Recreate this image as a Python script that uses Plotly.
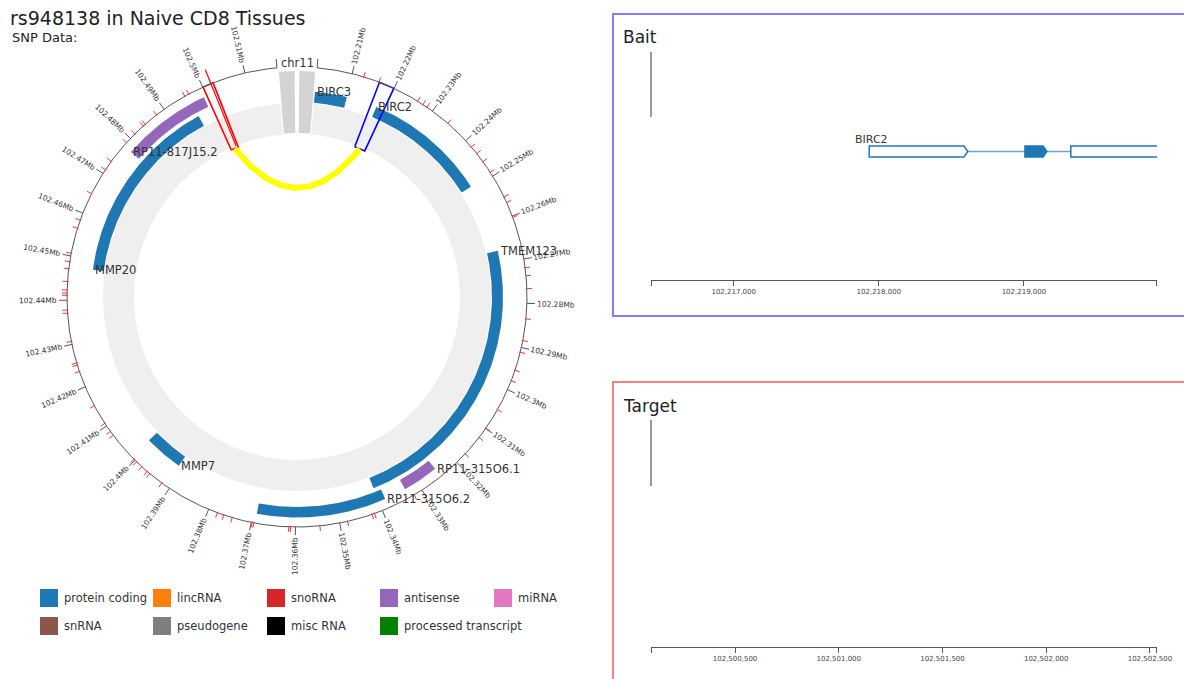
import math
import plotly.graph_objects as go

FIG_W, FIG_H = 1184, 679
FONT = "DejaVu Sans"
TEXT_COLOR = "#333333"

# ---------------- data ----------------
CHROM = "chr11"
TITLE = "rs948138 in Naive CD8 Tissues"

# genomic window wrapped around the circle (Mb)
REGION_START = 102.2020
REGION_END = 102.5173

gene_names = ["BIRC3", "BIRC2", "TMEM123", "RP11-315O6.1", "RP11-315O6.2",
              "MMP7", "MMP20", "RP11-817J15.2"]
gene_starts = [102.1882, 102.2179, 102.2669, 102.3247, 102.3384,
               102.3912, 102.4476, 102.4778]
gene_ends = [102.2101, 102.2494, 102.3400, 102.3332, 102.3691,
             102.4010, 102.4961, 102.4993]
gene_types = ["protein coding", "protein coding", "protein coding", "antisense",
              "protein coding", "protein coding", "protein coding", "antisense"]

# SNP positions (Mb) shown as short ticks outside the axis
snp_positions = [
    102.2127, 102.2163, 102.2260, 102.2274, 102.2285, 102.2344, 102.2419,
    102.2438, 102.2461, 102.2490, 102.2553, 102.2567, 102.2603, 102.2720,
    102.2738, 102.2767, 102.2835, 102.2884, 102.2911, 102.2953, 102.2978,
    102.3050, 102.3099, 102.3125, 102.3173, 102.3321, 102.3419, 102.3425,
    102.3482, 102.3545, 102.3611, 102.3615, 102.3694, 102.3698, 102.3744,
    102.3764, 102.3779, 102.3921, 102.3955, 102.3963, 102.3979, 102.3995,
    102.4003, 102.4074, 102.4085, 102.4107, 102.4153, 102.4237, 102.4252,
    102.4257, 102.4307, 102.4371, 102.4378, 102.4411, 102.4416, 102.4423,
    102.4442, 102.4471, 102.4487, 102.4506, 102.4564, 102.4583, 102.4648,
    102.4710, 102.4733, 102.4787, 102.4814, 102.4840, 102.4846, 102.4879,
    102.4955, 102.4965,
]
lead_snp_mb = 102.5020

axis_ticks_mb = [102.21, 102.22, 102.23, 102.24, 102.25, 102.26, 102.27, 102.28,
                 102.29, 102.30, 102.31, 102.32, 102.33, 102.34, 102.35, 102.36,
                 102.37, 102.38, 102.39, 102.40, 102.41, 102.42, 102.43, 102.44,
                 102.45, 102.46, 102.47, 102.48, 102.49, 102.50, 102.51]

# interacting regions (bp)
bait_start, bait_end = 102216430, 102219917
target_start, target_end = 102500095, 102502534
bait_ticks = [102217000, 102218000, 102219000]
target_ticks = [102500500, 102501000, 102501500, 102502000, 102502500]

# BIRC2 exons inside the bait window (bp)
bait_gene = "BIRC2"
bait_gene_start = 102217934
exon_starts = [102217934, 102219007, 102219323]
exon_ends = [102218587, 102219132, 102219930]
exon_coding = [False, True, False]

legend_types = ["protein coding", "lincRNA", "snoRNA", "antisense", "miRNA",
                "snRNA", "pseudogene", "misc RNA", "processed transcript"]
type_colors = {
    "protein coding": "#1f77b4", "lincRNA": "#ff7f0e", "snoRNA": "#d62728",
    "antisense": "#9467bd", "miRNA": "#e377c2", "snRNA": "#8c564b",
    "pseudogene": "#7f7f7f", "misc RNA": "#000000",
    "processed transcript": "#008000",
}

# ---------------- circle geometry (px units, centre at origin) ----------------
CX, CY = 297, 297
GAP_DEG = 10.0
R_AXIS = 230
R_RING = (163, 194)
R_LANES = [(195, 206), (210, 220.5)]
R_BOX = (161, 230)
R_LINK_CTRL = 70
R_WEDGE = (164, 226)


def angle_of(mb):
    frac = (mb - REGION_START) / (REGION_END - REGION_START)
    return GAP_DEG / 2 + frac * (360 - GAP_DEG)


def polar(theta, r):
    t = math.radians(theta)
    return r * math.sin(t), r * math.cos(t)


def sector(t1, t2, r1, r2):
    n = max(2, int(abs(t2 - t1) / 0.5) + 2)
    ts = [t1 + (t2 - t1) * i / (n - 1) for i in range(n)]
    xs, ys = [], []
    for t in ts:
        x, y = polar(t, r2)
        xs.append(x); ys.append(y)
    for t in reversed(ts):
        x, y = polar(t, r1)
        xs.append(x); ys.append(y)
    xs.append(xs[0]); ys.append(ys[0])
    return xs, ys


def px(x):
    return x / FIG_W


def py(y):
    return 1 - y / FIG_H


fig = go.Figure()


def add_poly(xs, ys, fill, line_color=None, width=0, xa="x", ya="y"):
    fig.add_trace(go.Scatter(
        x=xs, y=ys, mode="lines", fill="toself", fillcolor=fill,
        line=dict(color=line_color or fill, width=width),
        xaxis=xa, yaxis=ya, hoverinfo="skip", showlegend=False))


def add_line(xs, ys, color, width, xa="x", ya="y"):
    fig.add_trace(go.Scatter(
        x=xs, y=ys, mode="lines", line=dict(color=color, width=width),
        xaxis=xa, yaxis=ya, hoverinfo="skip", showlegend=False))


# background ring
a0, a1 = angle_of(REGION_START), angle_of(REGION_END)
xs, ys = sector(a0, a1, *R_RING)
add_poly(xs, ys, "#efefef")

# chromosome gap wedges
for t1, t2 in [(-4.6, -0.6), (0.6, 4.6)]:
    xs, ys = sector(t1, t2, *R_WEDGE)
    add_poly(xs, ys, "#d3d3d3")

# gene bars, greedy lane assignment
lane_end = []
order = sorted(range(len(gene_names)), key=lambda i: gene_starts[i])
gene_lane = {}
for i in order:
    s = max(gene_starts[i], REGION_START)
    lane = 0
    while lane < len(lane_end) and lane_end[lane] > s:
        lane += 1
    if lane == len(lane_end):
        lane_end.append(0)
    lane_end[lane] = gene_ends[i]
    gene_lane[i] = lane

gene_annotations = []
for i, name in enumerate(gene_names):
    s = max(gene_starts[i], REGION_START)
    e = min(gene_ends[i], REGION_END)
    r1, r2 = R_LANES[gene_lane[i]]
    xs, ys = sector(angle_of(s), angle_of(e), r1, r2)
    add_poly(xs, ys, type_colors[gene_types[i]])
    lx, ly = polar(angle_of(s), r2)
    gene_annotations.append(dict(
        x=lx, y=ly, xref="x", yref="y", text=name, showarrow=False,
        xanchor="left", yanchor="middle",
        font=dict(family=FONT, size=11.5, color=TEXT_COLOR)))

# interacting region boxes
def region_box(start_bp, end_bp, color):
    t1, t2 = angle_of(start_bp / 1e6), angle_of(end_bp / 1e6)
    pts = [polar(t1, R_BOX[0]), polar(t1, R_BOX[1]),
           polar(t2, R_BOX[1]), polar(t2, R_BOX[0])]
    pts.append(pts[0])
    add_line([p[0] for p in pts], [p[1] for p in pts], color, 1.6)
    return (t1 + t2) / 2

mid_target = region_box(target_start, target_end, "#ff0000")
mid_bait = region_box(bait_start, bait_end, "#0000ff")

# link between bait and target
p0 = polar(mid_target, R_BOX[0])
p2 = polar(mid_bait, R_BOX[0])
vx, vy = p0[0] + p2[0], p0[1] + p2[1]
vn = math.hypot(vx, vy)
c = (vx / vn * R_LINK_CTRL, vy / vn * R_LINK_CTRL)
bx, by = [], []
for k in range(81):
    t = k / 80
    bx.append((1 - t) ** 2 * p0[0] + 2 * t * (1 - t) * c[0] + t ** 2 * p2[0])
    by.append((1 - t) ** 2 * p0[1] + 2 * t * (1 - t) * c[1] + t ** 2 * p2[1])
add_line(bx, by, "#ffff00", 6)

# lead SNP marker
sx0, sy0 = polar(angle_of(lead_snp_mb), 163)
sx1, sy1 = polar(angle_of(lead_snp_mb), 245)
add_line([sx0, sx1], [sy0, sy1], "#ff0000", 1.2)

# axis arc
n = 701
ax_x, ax_y = [], []
for k in range(n):
    x, y = polar(a0 + (a1 - a0) * k / (n - 1), R_AXIS)
    ax_x.append(x); ax_y.append(y)
add_line(ax_x, ax_y, "#555555", 1)

# axis end brackets + major ticks
tx, ty = [], []
for t in [a0, a1]:
    x0, y0 = polar(t, R_AXIS)
    x1, y1 = polar(t, R_AXIS + 9)
    tx += [x0, x1, None]; ty += [y0, y1, None]
for v in axis_ticks_mb:
    t = angle_of(v)
    x0, y0 = polar(t, R_AXIS)
    x1, y1 = polar(t, R_AXIS + 8)
    tx += [x0, x1, None]; ty += [y0, y1, None]
add_line(tx, ty, "#555555", 1)

# SNP ticks
rx, ry = [], []
for v in snp_positions:
    t = angle_of(v)
    x0, y0 = polar(t, R_AXIS - 1)
    x1, y1 = polar(t, R_AXIS + 5)
    rx += [x0, x1, None]; ry += [y0, y1, None]
add_line(rx, ry, "#ff3030", 1)

# tick labels, rotated along the radius
CHAR_W = {".": 0.318, "M": 0.863, "b": 0.635}
TICK_FS = 7.5
annotations = []
for v in axis_ticks_mb:
    label = f"{v:g}Mb"
    w = sum(CHAR_W.get(ch, 0.636) for ch in label) * TICK_FS
    t = angle_of(v)
    x, y = polar(t, R_AXIS + 10 + w / 2)
    ang = t - 90 if t < 180 else t - 270
    annotations.append(dict(
        x=x, y=y, xref="x", yref="y", text=label, showarrow=False,
        textangle=ang, xanchor="center", yanchor="middle",
        font=dict(family=FONT, size=TICK_FS, color=TEXT_COLOR)))

annotations += gene_annotations
annotations.append(dict(x=0, y=CY - 62.5, xref="x", yref="y", text=CHROM,
                        showarrow=False, xanchor="center", yanchor="middle",
                        font=dict(family=FONT, size=11.5, color=TEXT_COLOR)))

# titles
annotations.append(dict(x=px(8), y=py(18), xref="paper", yref="paper",
                        text=TITLE, showarrow=False, xanchor="left",
                        yanchor="middle",
                        font=dict(family=FONT, size=19, color="#222222")))
annotations.append(dict(x=px(10), y=py(37.5), xref="paper", yref="paper",
                        text="SNP Data:", showarrow=False, xanchor="left",
                        yanchor="middle",
                        font=dict(family=FONT, size=13, color="#222222")))

# legend
shapes = []
leg_cols = [40, 153, 267, 380, 494]
leg_rows = [598, 626]
SW = 18
for k, name in enumerate(legend_types):
    col, row = k % 5, k // 5
    x0, yc = leg_cols[col], leg_rows[row]
    shapes.append(dict(type="rect", xref="paper", yref="paper",
                       x0=px(x0), x1=px(x0 + SW), y0=py(yc + SW / 2),
                       y1=py(yc - SW / 2), fillcolor=type_colors[name],
                       line=dict(width=0)))
    annotations.append(dict(x=px(x0 + 22), y=py(yc), xref="paper",
                            yref="paper", text=name, showarrow=False,
                            xanchor="left", yanchor="middle",
                            font=dict(family=FONT, size=11.5,
                                      color=TEXT_COLOR)))

# ---------------- bait / target panels ----------------
PANEL_X0 = 651
PANEL_X1 = 1157
BAIT_AXIS_Y, BAIT_TOP_Y = 280, 52
TARGET_AXIS_Y, TARGET_TOP_Y = 647, 420

# panel frames (open towards the right edge)
for y_top, y_bot, col in [(14, 316, "rgba(0,0,255,0.5)"),
                          (382, 720, "rgba(255,0,0,0.5)")]:
    shapes.append(dict(type="path", xref="paper", yref="paper",
                       path=(f"M 1.2,{py(y_top)} L {px(613)},{py(y_top)} "
                             f"L {px(613)},{py(y_bot)} L 1.2,{py(y_bot)}"),
                       line=dict(color=col, width=2)))
# signal track baselines
for y_top, y_bot in [(52, 117), (420, 486)]:
    shapes.append(dict(type="line", xref="paper", yref="paper",
                       x0=px(PANEL_X0), x1=px(PANEL_X0),
                       y0=py(y_bot), y1=py(y_top),
                       line=dict(color="#777777", width=1.5)))

annotations.append(dict(x=px(621), y=py(36.5), xref="paper", yref="paper",
                        text="Bait", showarrow=False, xanchor="left",
                        yanchor="middle",
                        font=dict(family=FONT, size=17, color="#222222")))
annotations.append(dict(x=px(621), y=py(405.5), xref="paper", yref="paper",
                        text="Target", showarrow=False, xanchor="left",
                        yanchor="middle",
                        font=dict(family=FONT, size=17, color="#222222")))

# BIRC2 gene model in bait panel: x on the bait axis, y in page position
GENE_PY = 151.5
HALF_H = 5.5
bp_per_px = (bait_end - bait_start) / (PANEL_X1 - PANEL_X0)
tip = 3.8 * bp_per_px
y_mid, y_lo, y_hi = py(GENE_PY), py(GENE_PY + HALF_H), py(GENE_PY - HALF_H)
shapes.append(dict(type="line", xref="x2", yref="paper",
                   x0=exon_ends[0] + tip, x1=exon_starts[-1],
                   y0=y_mid, y1=y_mid, layer="below",
                   line=dict(color="rgba(31,119,180,0.65)", width=1.3)))
for s, e, coding in zip(exon_starts, exon_ends, exon_coding):
    path = (f"M {s},{y_hi} L {e},{y_hi} L {e + tip},{y_mid} "
            f"L {e},{y_lo} L {s},{y_lo} Z")
    shapes.append(dict(type="path", xref="x2", yref="paper", path=path,
                       fillcolor="#1f77b4" if coding else "#ffffff",
                       line=dict(color="#1f77b4", width=1.5)))
annotations.append(dict(x=bait_gene_start + 2.5 * bp_per_px,
                        y=py(140), xref="x2", yref="paper",
                        text=bait_gene, showarrow=False, xanchor="center",
                        yanchor="middle",
                        font=dict(family=FONT, size=11, color=TEXT_COLOR)))

fig.add_trace(go.Scatter(x=[None], y=[None], xaxis="x2", yaxis="y2",
                         showlegend=False, hoverinfo="skip"))
fig.add_trace(go.Scatter(x=[None], y=[None], xaxis="x3", yaxis="y3",
                         showlegend=False, hoverinfo="skip"))


def genome_axis(start, end, ticks):
    vals = [start + 1] + ticks + [end - 1]
    text = [""] + [f"{t:,}" for t in ticks] + [""]
    return dict(domain=[px(PANEL_X0), px(PANEL_X1)], range=[start, end],
                showline=True, linecolor="#555555", linewidth=1,
                ticks="outside", ticklen=5, tickwidth=1, tickcolor="#555555",
                tickvals=vals, ticktext=text, showgrid=False, zeroline=False,
                automargin=False,
                tickfont=dict(family=FONT, size=7, color="#444444"),
                fixedrange=True)


fig.update_layout(
    width=FIG_W, height=FIG_H, autosize=False,
    margin=dict(l=0, r=0, t=0, b=0, pad=0, autoexpand=False),
    paper_bgcolor="white", plot_bgcolor="rgba(0,0,0,0)",
    showlegend=False,
    xaxis=dict(domain=[0, 600 / FIG_W], range=[-CX, 600 - CX], visible=False,
               fixedrange=True),
    yaxis=dict(domain=[0, 1], range=[CY - FIG_H, CY], visible=False,
               fixedrange=True),
    xaxis2=dict(anchor="y2", **genome_axis(bait_start, bait_end, bait_ticks)),
    yaxis2=dict(anchor="x2", domain=[py(BAIT_AXIS_Y), py(BAIT_TOP_Y)],
                range=[0, BAIT_AXIS_Y - BAIT_TOP_Y], visible=False,
                fixedrange=True),
    xaxis3=dict(anchor="y3",
                **genome_axis(target_start, target_end, target_ticks)),
    yaxis3=dict(anchor="x3", domain=[py(TARGET_AXIS_Y), py(TARGET_TOP_Y)],
                range=[0, TARGET_AXIS_Y - TARGET_TOP_Y], visible=False,
                fixedrange=True),
    shapes=shapes,
    annotations=annotations,
)

fig.write_html("out.html", config={"responsive": False})
